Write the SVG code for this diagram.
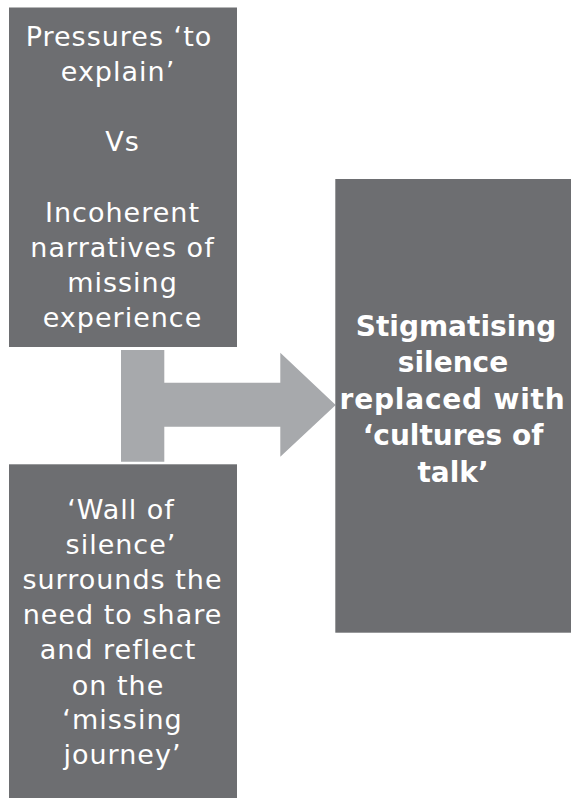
<svg xmlns="http://www.w3.org/2000/svg" width="571" height="798" viewBox="0 0 571 798">
<style>
.box{fill:#6d6e71;}
.arrow{fill:#a7a9ac;}
.t{font-family:"DejaVu Sans","Liberation Sans",sans-serif;font-size:27px;fill:#ffffff;text-anchor:middle;letter-spacing:1px;}
.b{font-family:"DejaVu Sans","Liberation Sans",sans-serif;font-size:28px;font-weight:bold;fill:#ffffff;text-anchor:middle;}
</style>
<rect width="571" height="798" fill="#ffffff"/>
<g id="connectors">
<path class="arrow" d="M121,350 H164.3 V382.7 H280.3 V352.7 L335.7,405 L280.3,456.7 V426.7 H164.3 V461.7 H121 Z"/>
</g>
<g id="node-pressures">
<rect class="box" x="9" y="7.5" width="228" height="339.5"/>
<text class="t" x="119" y="45.5">Pressures ‘to</text>
<text class="t" x="118" y="80.7">explain’</text>
<text class="t" x="122.5" y="151.1">Vs</text>
<text class="t" x="122.5" y="221.5">Incoherent</text>
<text class="t" x="122.5" y="256.7">narratives of</text>
<text class="t" x="122.5" y="291.9">missing</text>
<text class="t" x="122.5" y="327.1">experience</text>
</g>
<g id="node-wall">
<rect class="box" x="9" y="464.3" width="228" height="333.7"/>
<text class="t" x="121" y="519">‘Wall of</text>
<text class="t" x="121" y="554">silence’</text>
<text class="t" x="122.5" y="589">surrounds the</text>
<text class="t" x="122.5" y="624">need to share</text>
<text class="t" x="118" y="659">and reflect</text>
<text class="t" x="118" y="694.5">on the</text>
<text class="t" x="122.5" y="729">‘missing</text>
<text class="t" x="122.5" y="764">journey’</text>
</g>
<g id="node-stigmatising">
<rect class="box" x="335.3" y="179" width="235.7" height="453.7"/>
<text class="b" x="456" y="335.8">Stigmatising</text>
<text class="b" x="453" y="372.3">silence</text>
<text class="b" x="452.5" y="408.8" letter-spacing="0.8">replaced with</text>
<text class="b" x="453" y="445.3">‘cultures of</text>
<text class="b" x="453" y="481.8">talk’</text>
</g>
</svg>
